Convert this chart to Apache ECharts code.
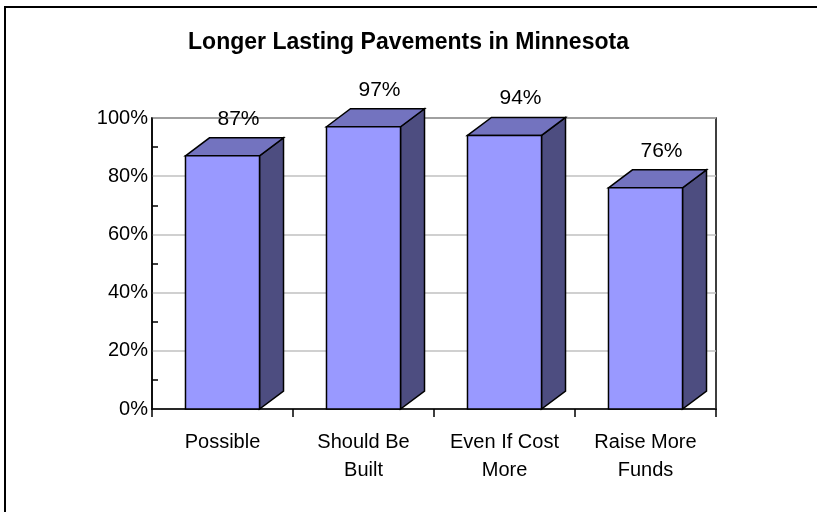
<!DOCTYPE html>
<html>
<head>
<meta charset="utf-8">
<script src="https://cdn.jsdelivr.net/npm/echarts@6/dist/echarts.min.js"></script>
<style>
  html, body { margin: 0; padding: 0; background: #fff; }
  #chart { width: 817px; height: 512px; }
</style>
</head>
<body>
<div id="chart"></div>
<script>
var categories = ['Possible', 'Should Be\nBuilt', 'Even If Cost\nMore', 'Raise More\nFunds'];
var values = [0.87, 0.97, 0.94, 0.76];
var valueLabels = ['87%', '97%', '94%', '76%'];

var chart = echarts.init(document.getElementById('chart'));

// 3D bar: front face + top + side, drawn from the axis coordinates
function renderBar(params, api) {
  var idx = api.value(0);
  var top = api.coord([idx, api.value(1)]);
  var base = api.coord([idx, 0]);
  var band = api.size([1, 0])[0];
  var w = band * 0.525;
  var dx = 24, dy = 18;
  var x0 = top[0] - w / 2, x1 = top[0] + w / 2;
  var y0 = top[1], y1 = base[1];
  var stroke = { stroke: '#000', lineWidth: 1.5, lineJoin: 'miter' };
  return {
    type: 'group',
    children: [
      {
        type: 'polygon',
        shape: { points: [[x1, y0], [x1 + dx, y0 - dy], [x1 + dx, y1 - dy], [x1, y1]] },
        style: Object.assign({ fill: '#4D4D80' }, stroke)
      },
      {
        type: 'polygon',
        shape: { points: [[x0, y0], [x0 + dx, y0 - dy], [x1 + dx, y0 - dy], [x1, y0]] },
        style: Object.assign({ fill: '#7373BF' }, stroke)
      },
      {
        type: 'rect',
        shape: { x: x0, y: y0, width: w, height: y1 - y0 },
        style: Object.assign({ fill: '#9999FF' }, stroke)
      },
      {
        type: 'text',
        style: {
          x: top[0] + 16, y: y0 - 37,
          text: valueLabels[idx],
          fill: '#000',
          font: '21px "Liberation Sans", Arial, sans-serif',
          align: 'center', verticalAlign: 'middle'
        }
      }
    ]
  };
}

var option = {
  animation: false,
  textStyle: { fontFamily: '"Liberation Sans", Arial, sans-serif' },
  title: {
    text: 'Longer Lasting Pavements in Minnesota',
    left: 'center',
    top: 26,
    textStyle: { fontSize: 23, fontWeight: 'bold', color: '#000' }
  },
  graphic: [{
    type: 'rect',
    shape: { x: 5, y: 7, width: 830, height: 530 },
    style: { fill: 'none', stroke: '#000', lineWidth: 2 },
    silent: true
  }],
  grid: {
    left: 152, top: 118, right: 101, bottom: 103,
    show: true, borderColor: '#000', borderWidth: 1.5,
    containLabel: false
  },
  xAxis: {
    type: 'category',
    data: categories,
    axisLine: { lineStyle: { color: '#000', width: 1.5 } },
    axisTick: { show: true, length: 8, lineStyle: { color: '#000', width: 1.5 } },
    axisLabel: { color: '#000', fontSize: 20, lineHeight: 28, margin: 19, interval: 0 }
  },
  yAxis: {
    type: 'value',
    min: 0, max: 1, interval: 0.2,
    axisLine: { show: true, lineStyle: { color: '#000', width: 1.5 } },
    axisTick: { show: false, inside: true },
    minorTick: { show: true, splitNumber: 2, length: 6, lineStyle: { color: '#000', width: 1.5 } },
    splitLine: { show: true, lineStyle: { color: '#C0C0C0', width: 1.5 } },
    axisLabel: {
      color: '#000', fontSize: 20, margin: 4,
      formatter: function (v) { return Math.round(v * 100) + '%'; }
    }
  },
  series: [{
    type: 'custom',
    clip: false,
    renderItem: renderBar,
    encode: { x: 0, y: 1 },
    data: values.map(function (v, i) { return [i, v]; })
  }]
};

chart.setOption(option);
</script>
</body>
</html>
